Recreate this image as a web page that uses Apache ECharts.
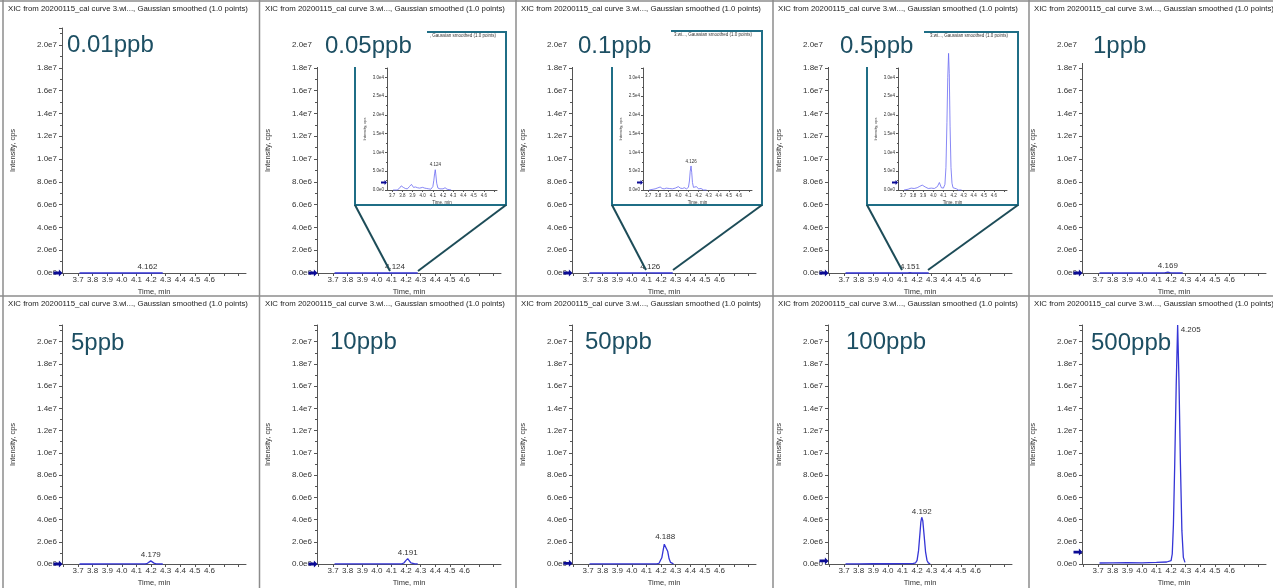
<!DOCTYPE html>
<html>
<head>
<meta charset="utf-8">
<script src="https://cdn.jsdelivr.net/npm/echarts@6/dist/echarts.min.js"></script>
<style>
  html, body { margin: 0; padding: 0; background: #fff; }
  #chart { width: 1273px; height: 588px; }
</style>
</head>
<body>
<div id="chart"></div>
<script>
// ---- data -------------------------------------------------------------
var panelNames = ["0.01ppb", "0.05ppb", "0.1ppb", "0.5ppb", "1ppb",
                  "5ppb", "10ppb", "50ppb", "100ppb", "500ppb"];
// retention time printed on each peak
var peakTimes = [4.162, 4.124, 4.126, 4.151, 4.169, 4.179, 4.191, 4.188, 4.192, 4.205];
// blue threshold arrow on the y axis of each panel (cps)
var arrowLevels = [0, 0, 0, 0, 0, 0, 0, 6e4, 2.8e5, 1.07e6];
var insetArrowLevel = 2000;

var xTickValues = [3.6, 3.7, 3.8, 3.9, 4.0, 4.1, 4.2, 4.3, 4.4, 4.5, 4.6, 4.7, 4.8];
var xTickLabels = [3.7, 3.8, 3.9, 4.0, 4.1, 4.2, 4.3, 4.4, 4.5, 4.6];

// XIC traces as drawn: [time (min), intensity (cps)]
var xic001 = [[3.71, 200], [3.75, 300], [3.80, 500], [3.85, 300], [3.90, 600], [3.95, 400],
  [4.00, 500], [4.05, 300], [4.10, 400], [4.15, 900], [4.168, 1800], [4.175, 2300],
  [4.185, 1700], [4.20, 600], [4.24, 400], [4.28, 100]];
var xic005 = [[3.71, 0], [3.75, 0], [3.77, 400], [3.79, 1100], [3.81, 700], [3.83, 400], [3.85, 300],
  [3.87, 900], [3.89, 1500], [3.91, 700], [3.93, 800], [3.95, 600], [3.97, 500], [4.00, 700],
  [4.02, 500], [4.04, 400], [4.06, 300], [4.08, 200], [4.10, 900], [4.11, 2600], [4.117, 4300],
  [4.124, 5400], [4.13, 4000], [4.138, 1800], [4.15, 500], [4.17, 300], [4.185, 500],
  [4.20, 300], [4.22, 600], [4.24, 200], [4.25, 0], [4.28, 0]];
var xic01 = [[3.71, 0], [3.75, 200], [3.77, 300], [3.79, 500], [3.82, 800], [3.84, 400], [3.86, 300],
  [3.88, 500], [3.91, 400], [3.94, 300], [3.97, 500], [4.00, 900], [4.02, 500], [4.04, 400],
  [4.06, 600], [4.08, 300], [4.10, 700], [4.11, 2400], [4.118, 5000], [4.126, 6400],
  [4.133, 4600], [4.14, 2000], [4.15, 700], [4.165, 500], [4.18, 900], [4.20, 300],
  [4.225, 400], [4.25, 0], [4.28, 0]];
var xic05 = [[3.71, 0], [3.75, 200], [3.78, 500], [3.81, 400], [3.84, 600], [3.86, 900], [3.89, 1300],
  [3.92, 800], [3.95, 400], [3.98, 500], [4.01, 400], [4.04, 900], [4.06, 2000], [4.08, 600],
  [4.10, 500], [4.115, 1500], [4.125, 6000], [4.135, 18000], [4.143, 30000], [4.151, 36400],
  [4.158, 31000], [4.166, 17000], [4.175, 6000], [4.185, 1800], [4.195, 600], [4.21, 800],
  [4.23, 300], [4.25, 0], [4.28, 0]];
var xic1 = [[3.71, 400], [3.75, 500], [3.80, 800], [3.85, 1200], [3.90, 1500], [3.95, 900],
  [4.00, 1100], [4.05, 1800], [4.10, 1500], [4.14, 4000], [4.155, 15000], [4.168, 48000],
  [4.178, 70000], [4.188, 46000], [4.198, 16000], [4.212, 4000], [4.24, 1500], [4.28, 300]];
var xic5 = [[3.71, 1500], [3.80, 2000], [3.90, 3000], [4.00, 2500], [4.08, 4000], [4.14, 5000],
  [4.16, 15000], [4.175, 60000], [4.187, 170000], [4.198, 280000], [4.209, 190000],
  [4.22, 80000], [4.235, 20000], [4.25, 6000], [4.28, 2000]];
var xic10 = [[3.71, 2500], [3.80, 3000], [3.90, 4000], [4.00, 3500], [4.10, 5000], [4.15, 7000],
  [4.17, 20000], [4.185, 90000], [4.198, 300000], [4.211, 480000], [4.222, 320000],
  [4.233, 110000], [4.245, 25000], [4.26, 6000], [4.28, 3000]];
var xic50 = [[3.71, 9000], [3.80, 10000], [3.90, 12000], [4.00, 11000], [4.10, 14000],
  [4.17, 18000], [4.185, 50000], [4.195, 150000], [4.205, 560000], [4.215, 1300000],
  [4.222, 1780000], [4.228, 1950000], [4.235, 1800000], [4.245, 1150000], [4.255, 470000],
  [4.265, 140000], [4.275, 40000], [4.285, 15000]];
var xic100 = [[3.71, 18000], [3.80, 20000], [3.90, 25000], [4.00, 22000], [4.10, 30000],
  [4.17, 40000], [4.19, 110000], [4.20, 330000], [4.21, 1200000], [4.22, 2800000],
  [4.226, 3800000], [4.232, 4200000], [4.239, 3900000], [4.248, 2600000], [4.258, 1100000],
  [4.268, 320000], [4.278, 80000], [4.29, 30000]];
var xic500 = [[3.71, 90000], [3.80, 100000], [3.90, 120000], [4.00, 110000], [4.10, 140000],
  [4.17, 180000], [4.20, 300000], [4.208, 900000], [4.216, 3500000], [4.225, 9000000],
  [4.235, 16000000], [4.245, 21500000], [4.254, 16500000], [4.264, 9000000],
  [4.274, 3000000], [4.284, 600000], [4.295, 150000]];

var traces = [xic001, xic005, xic01, xic05, xic1, xic5, xic10, xic50, xic100, xic500];

// ---- layout --------------------------------------------------------------
var FONT = 'Arial, "Liberation Sans", sans-serif';
var TITLE = "XIC from 20200115_cal curve 3.wi..., Gaussian smoothed (1.0 points)";
var plotLeft = [62, 317, 572, 828, 1082];
var plotW = 184;
var rowTop = [28, 325];
var rowH = [245, 242];
var panelLeft = [3, 260, 516, 773, 1029];
var rowTitleY = [9, 304];
var bigLabelPos = [[67, 45], [325, 46], [578, 46], [840, 46], [1093, 46],
                   [71, 343], [330, 342], [585, 342], [846, 342], [1091, 343]];
// white boxes behind the big labels (they hide the axis top and frame corner)
var labelBoxes = [[313, 25, 114, 42], [567, 25, 104, 42], [823, 25, 101, 42], [1077, 25, 84, 38]];
var insets = [
  { panel: 1, data: xic005, grid: [387, 68, 110, 122], frame: [355, 32, 151, 173],
    leads: [[355, 205, 390, 271], [506, 205, 418, 271]], title: ", Gaussian smoothed (1.0 points)" },
  { panel: 2, data: xic01, grid: [643, 68, 109, 122], frame: [612, 31, 150, 174],
    leads: [[612, 205, 646, 270], [762, 205, 673, 270]], title: "3.wi..., Gaussian smoothed (1.0 points)" },
  { panel: 3, data: xic05, grid: [898, 68, 109, 122], frame: [867, 32, 151, 173],
    leads: [[867, 205, 902, 270], [1018, 205, 928, 270]], title: "3.wi..., Gaussian smoothed (1.0 points)" }
];

var ARROW = "path://M0,3 L6,3 L6,0 L10,5 L6,10 L6,7 L0,7 Z";

function sci(v) { return v.toExponential(1).replace("e+", "e"); }
function apexOf(data) {
  var best = data[0];
  data.forEach(function (p) { if (p[1] > best[1]) best = p; });
  return best;
}

var grids = [], xAxes = [], yAxes = [], series = [], graphics = [];

function addPlot(box, data, rt, arrowY, small, xMin, xMax, yMax, yStep, labelPos) {
  var gi = grids.length;
  var fs = small ? 4.5 : 8;
  grids.push({ left: box[0], top: box[1], width: box[2], height: box[3], containLabel: false });
  xAxes.push({
    type: "value", gridIndex: gi, min: xMin, max: xMax,
    name: "Time, min", nameLocation: "middle", nameGap: small ? 10 : 15,
    nameTextStyle: { fontSize: small ? 4.5 : 7.5, color: "#333", fontFamily: FONT },
    axisLine: { show: true, lineStyle: { color: "#555", width: 1 } },
    axisTick: { show: true, length: small ? 2 : 3, customValues: xTickValues, lineStyle: { color: "#555" } },
    axisLabel: { customValues: xTickLabels, formatter: function (v) { return v.toFixed(1); },
      fontSize: fs, color: "#333", margin: 3, fontFamily: FONT },
    splitLine: { show: false }
  });
  yAxes.push({
    type: "value", gridIndex: gi, min: 0, max: yMax, interval: yStep,
    name: "Intensity, cps", nameLocation: "middle", nameGap: small ? 20 : 45,
    nameTextStyle: { fontSize: small ? 4 : 7.5, color: "#333", fontFamily: FONT },
    axisLine: { show: true, lineStyle: { color: "#555", width: 1 } },
    axisTick: { show: true, length: small ? 2 : 3, lineStyle: { color: "#555" } },
    minorTick: { show: true, splitNumber: 2, length: small ? 1 : 2, lineStyle: { color: "#555" } },
    axisLabel: { formatter: sci, fontSize: fs, color: "#333", margin: small ? 3 : 5,
      showMaxLabel: false, fontFamily: FONT },
    splitLine: { show: false }
  });
  series.push({
    type: "line", xAxisIndex: gi, yAxisIndex: gi, data: data,
    showSymbol: false, clip: false, silent: true, z: 3,
    lineStyle: { color: small ? "#6a6af2" : "#3535d6", width: small ? 0.8 : 1.3 },
    markPoint: {
      silent: true,
      data: [
        { coord: apexOf(data), symbol: "circle", symbolSize: 0,
          label: { show: true, formatter: rt.toFixed(3), position: labelPos || "top", distance: 2,
            fontSize: small ? 4.5 : 8, color: "#333", fontFamily: FONT } },
        { coord: [xMin, arrowY], symbol: ARROW, symbolSize: small ? [6, 5] : [9, 7],
          symbolOffset: small ? [-3, 0] : [-4, 0], itemStyle: { color: "#0b0b95" },
          label: { show: false } }
      ]
    }
  });
}

// main panels
for (var i = 0; i < 10; i++) {
  var row = i < 5 ? 0 : 1, col = i % 5;
  addPlot([plotLeft[col], rowTop[row], plotW, rowH[row]], traces[i], peakTimes[i], arrowLevels[i],
    false, 3.59, 4.85, 2.15e7, 2e6, i === 9 ? [3, 1] : null);
  graphics.push({ type: "text", x: panelLeft[col] + 5, y: rowTitleY[row], z: 5,
    style: { text: TITLE, fontSize: 7.8, fill: "#222", fontFamily: FONT, verticalAlign: "middle" } });
}

// zoomed insets
insets.forEach(function (ins) {
  addPlot(ins.grid, ins.data, peakTimes[ins.panel], insetArrowLevel, true, 3.65, 4.73, 3.25e4, 5e3, null);
  var f = ins.frame;
  graphics.push({ type: "rect", z: 50, shape: { x: f[0], y: f[1], width: f[2], height: f[3] },
    style: { fill: null, stroke: "#1f6e86", lineWidth: 2 } });
  ins.leads.forEach(function (l) {
    graphics.push({ type: "line", z: 50, shape: { x1: l[0], y1: l[1], x2: l[2], y2: l[3] },
      style: { stroke: "#1d4c58", lineWidth: 2 } });
  });
  graphics.push({ type: "text", z: 51, x: f[0] + f[2] - 10, y: f[1] + 4,
    style: { text: ins.title, fontSize: 4.5, fill: "#333", fontFamily: FONT, align: "right", verticalAlign: "middle" } });
});

labelBoxes.forEach(function (b) {
  graphics.push({ type: "rect", z: 60, shape: { x: b[0], y: b[1], width: b[2], height: b[3] },
    style: { fill: "#fff", stroke: null } });
});

panelNames.forEach(function (name, k) {
  graphics.push({ type: "text", z: 61, x: bigLabelPos[k][0], y: bigLabelPos[k][1],
    style: { text: name, fontSize: 24, fill: "#1d4f63", fontFamily: FONT, verticalAlign: "middle" } });
});

// window frame lines between panels
[3, 259.5, 516, 773, 1029].forEach(function (x) {
  graphics.push({ type: "line", z: 70, shape: { x1: x, y1: 0, x2: x, y2: 588 },
    style: { stroke: "#8c8c8c", lineWidth: 1.5 } });
});
[1, 296].forEach(function (y) {
  graphics.push({ type: "line", z: 70, shape: { x1: 0, y1: y, x2: 1273, y2: y },
    style: { stroke: "#8c8c8c", lineWidth: 1.5 } });
});

var chart = echarts.init(document.getElementById("chart"), null, { renderer: "canvas" });
chart.setOption({
  backgroundColor: "#fff",
  animation: false,
  grid: grids,
  xAxis: xAxes,
  yAxis: yAxes,
  series: series,
  graphic: { elements: graphics }
});
</script>
</body>
</html>
